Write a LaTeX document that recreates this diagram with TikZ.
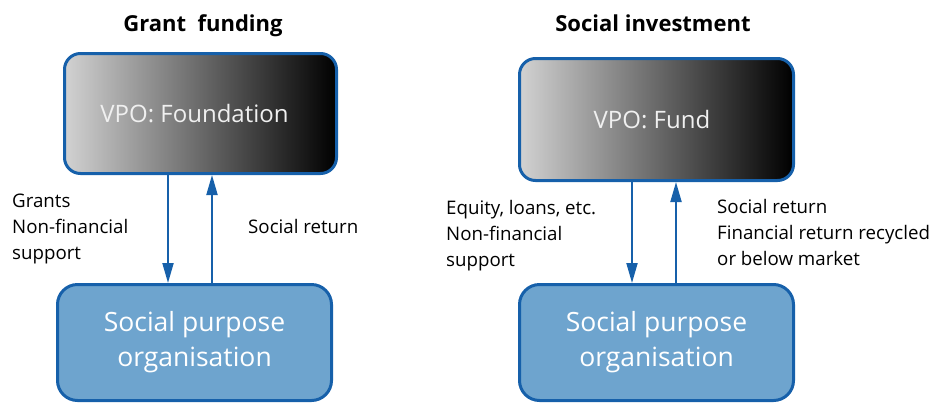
\documentclass[tikz,border=0pt]{standalone}
\usepackage{fontspec}
\setmainfont{Open Sans}
\usetikzlibrary{arrows.meta}
\definecolor{bord}{RGB}{22,96,170}
\definecolor{sfill}{RGB}{110,164,206}
\definecolor{gl}{RGB}{210,210,210}
\begin{document}
\begin{tikzpicture}[x=1pt,y=-1pt,
  vpo/.style={draw=bord, line width=3pt, rounded corners=16pt, left color=gl, right color=black,
    text=white!94!black, font=\fontsize{24}{30}\selectfont, inner sep=0pt},
  spo/.style={draw=bord, line width=3pt, rounded corners=20pt, fill=sfill, minimum width=274pt,
    minimum height=116pt, text=white, align=center, font=\fontsize{26.5}{35}\selectfont, inner sep=0pt},
  arr/.style={draw=bord, line width=2pt, -{Triangle[length=20pt,width=11pt]}},
  lab/.style={font=\fontsize{18.7}{26}\selectfont, align=left, anchor=base west, inner sep=0pt},
  ttl/.style={font=\bfseries\fontsize{22}{26}\selectfont, anchor=base, inner sep=0pt}]
\useasboundingbox (0,0) rectangle (948,405);
% titles
\node[ttl] (t1) at (203,31) {Grant\ \ funding};
\node[ttl] (t2) at (653,31) {Social investment};
% boxes
\node[vpo, minimum width=272pt, minimum height=120pt] (ltop) at (200.5,113.5) {VPO: Foundation\hspace*{12pt}};
\node[spo] (lbot) at (194.5,342.5) {Social purpose\\organisation};
\node[vpo, minimum width=274pt, minimum height=122pt] (rtop) at (656.5,119.5) {VPO: Fund\hspace*{9pt}};
\node[spo] (rbot) at (656.5,342.5) {Social purpose\\organisation};
% arrows
\coordinate (a1) at (168,0);
\coordinate (a2) at (212,0);
\coordinate (a3) at (632,0);
\coordinate (a4) at (676,0);
\draw[arr] (a1 |- ltop.south) -- (a1 |- lbot.north);
\draw[arr] (a2 |- lbot.north) -- (a2 |- ltop.south);
\draw[arr] (a3 |- rtop.south) -- (a3 |- rbot.north);
\draw[arr] (a4 |- rbot.north) -- (a4 |- rtop.south);
% labels (anchor = baseline of last line)
\node[lab] (l1) at (12,259) {Grants\\Non-financial\\support};
\node[lab] (l2) at (248,233) {Social return};
\node[lab] (l3) at (446,266) {Equity, loans, etc.\\Non-financial\\support};
\node[lab] (l4) at (717,265) {Social return\\Financial return recycled\\or below market};
\end{tikzpicture}
\end{document}
